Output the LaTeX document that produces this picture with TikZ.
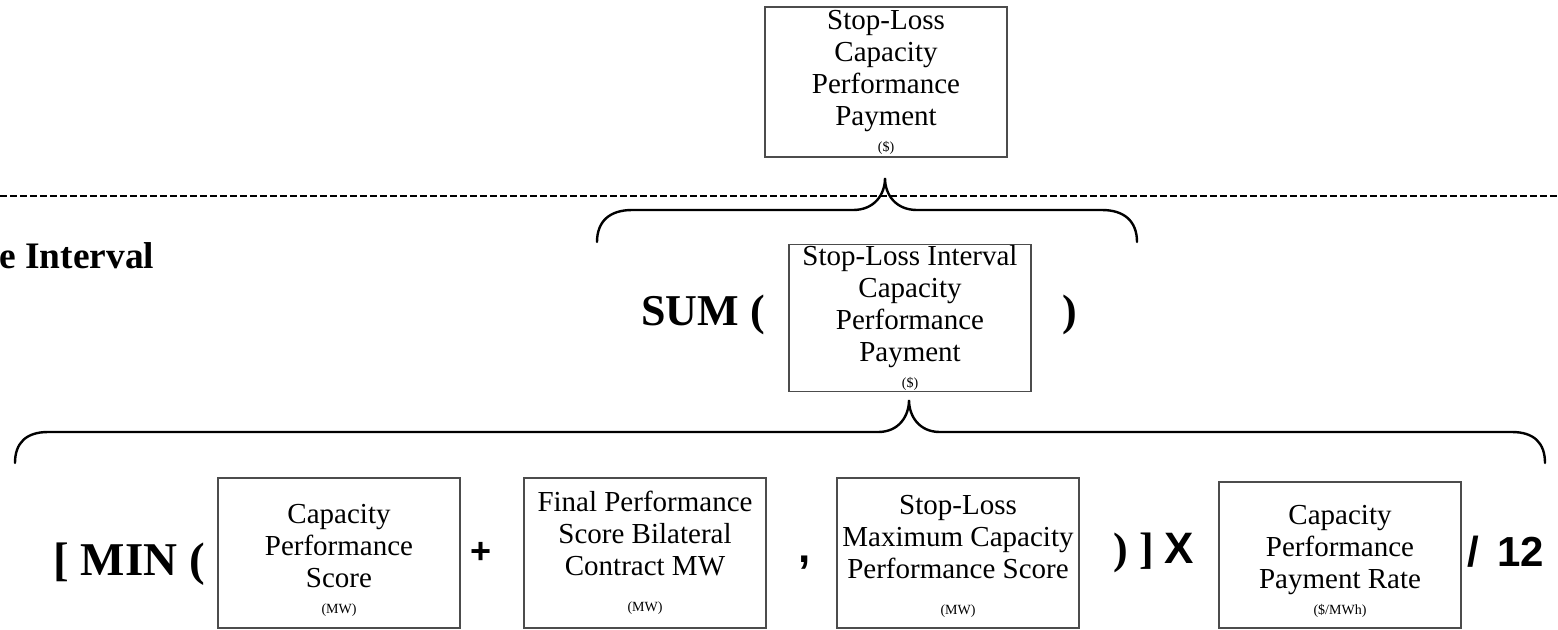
\documentclass[tikz,border=0pt]{standalone}
\usepackage{fontspec}
\setmainfont{Liberation Serif}
\setsansfont{Liberation Sans}
\usepackage{tikz}
\usetikzlibrary{positioning}

\newcommand{\unitfont}{\fontsize{7}{8}\selectfont}

\begin{document}
\begin{tikzpicture}[
    x=0.5pt, y=-0.5pt,
    box/.style={rectangle, draw=black!70, line width=0.6pt, minimum width=121pt, minimum height=75pt, inner sep=0pt, align=center, font=\fontsize{14.5}{16}\selectfont},
    op/.style={inner sep=0pt, font=\fontsize{22}{26}\selectfont\bfseries},
    sop/.style={inner sep=0pt, font=\fontsize{19}{23}\selectfont\sffamily\bfseries},
    brace/.style={line width=1.2pt, line cap=round},
    sep/.style={line width=1.3pt, dash pattern=on 3.5pt off 1.5pt}
]
\useasboundingbox (0,0) rectangle (1558,629);

% Boxes
\node[box] (slcpp) at (886,82) {Stop-Loss\\Capacity\\Performance\\Payment\\[-3pt]{\unitfont (\$)}};
\node[box, minimum height=73.5pt] (slicpp) at (910,318) {Stop-Loss Interval\\Capacity\\Performance\\Payment\\[-3pt]{\unitfont (\$)}};
\node[box] (cps) at (339,553) {\rule{0pt}{17pt}Capacity\\Performance\\Score\\[-3pt]{\unitfont (MW)}};
\node[box] (fpsbc) at (645,553) {Final Performance\\Score Bilateral\\Contract MW\\[2pt]{\unitfont (MW)}};
\node[box] (slmcps) at (958,553) {\rule{0pt}{13pt}Stop-Loss\\Maximum Capacity\\Performance Score\\[2pt]{\unitfont (MW)}};
\node[box, minimum height=73pt] (cppr) at (1340,555) {\rule{0pt}{16pt}Capacity\\Performance\\Payment Rate\\[-3pt]{\unitfont (\$/MWh)}};

% Operators
\node[op, anchor=base west, font=\fontsize{18.7}{22}\selectfont\bfseries] (intlbl) at (-1,268) {e Interval};
\node[op, anchor=base west] (sumop) at (641,325) {SUM (};
\node[op, anchor=base] (sumcl) at (1070,325) {)};
\node[op, anchor=base west, font=\fontsize{23.5}{27}\selectfont\bfseries] (minop) at (53,575) {[ MIN (};
\node[sop, font=\fontsize{18}{22}\selectfont\sffamily\bfseries] (plusop) at (481,553) {+};
\node[sop, anchor=base, font=\fontsize{22}{26}\selectfont\sffamily\bfseries] (commaop) at (805,562) {,};
\node[op, anchor=base west] (timesop) at (1113,563) {) ]\ {\sffamily X}};
\node[sop, anchor=base west, font=\fontsize{21}{25}\selectfont\sffamily\bfseries] (divop) at (1467,566) {/\hspace{9pt}12};

% Separator
\draw[sep] (0,196) -- (1558,196);

% Braces
\draw[brace] (597,242) .. controls (597,221) and (610,210) .. (632,210) -- (853,210)
    .. controls (874,210) and (885,195) .. (885,178)
    .. controls (885,195) and (896,210) .. (917,210) -- (1102,210)
    .. controls (1124,210) and (1137,221) .. (1137,242);
\draw[brace] (15,463) .. controls (15,443) and (26,432) .. (48,432) -- (878,432)
    .. controls (899,432) and (909,416) .. (909,400)
    .. controls (909,416) and (919,432) .. (940,432) -- (1512,432)
    .. controls (1534,432) and (1545,443) .. (1545,463);
\end{tikzpicture}
\end{document}
